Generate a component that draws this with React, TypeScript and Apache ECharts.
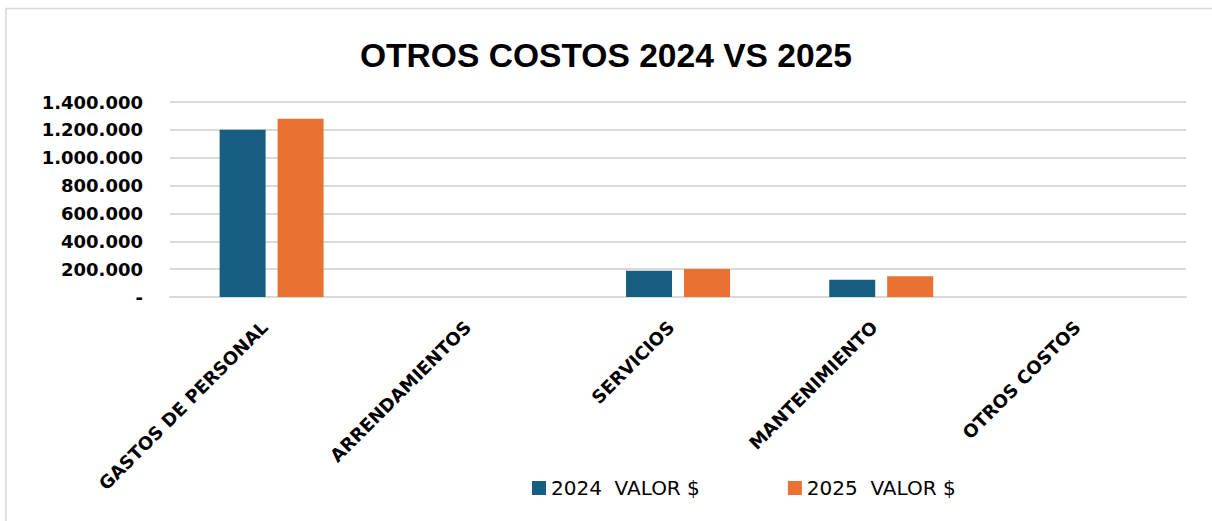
import React, { useEffect, useRef } from "react";
import * as echarts from "echarts";

const categories = ["GASTOS DE PERSONAL", "ARRENDAMIENTOS", "SERVICIOS", "MANTENIMIENTO", "OTROS COSTOS"];
const values2024 = [1200000, 0, 189000, 124000, 0];
const values2025 = [1280000, 0, 201000, 149000, 0];
const seriesNames = ["2024  VALOR $", "2025  VALOR $"];
const titleText = "OTROS COSTOS 2024 VS 2025";

function fmt(v: number): string {
  if (v === 0) return "-";
  return String(Math.round(v)).replace(/\B(?=(\d{3})+(?!\d))/g, ".");
}

export default function App() {
  const ref = useRef<HTMLDivElement>(null);
  useEffect(() => {
    if (!ref.current) return;
    const chart = echarts.init(ref.current, null, { renderer: "svg" });
    chart.setOption({
      animation: false,
      backgroundColor: "#ffffff",
      title: {
        text: titleText,
        left: "center",
        top: 33,
        textStyle: { fontFamily: "Liberation Sans, Arial", fontWeight: "bold", fontSize: 33.6, color: "#000" },
      },
      graphic: [
        {
          type: "rect",
          shape: { x: 6, y: 8.5, width: 1220, height: 530 },
          style: { fill: "none", stroke: "#d9d9d9", lineWidth: 1.5 },
          silent: true,
        },
      ],
      legend: {
        bottom: 18,
        left: 527,
        itemGap: 88,
        icon: "rect",
        itemWidth: 14,
        itemHeight: 14,
        textStyle: { fontFamily: "DejaVu Sans", fontSize: 20, color: "#000" },
        data: seriesNames,
      },
      grid: { left: 170, right: 26, top: 102, bottom: 224, containLabel: false },
      xAxis: {
        type: "category",
        data: categories,
        axisLine: { show: true, lineStyle: { color: "#d9d9d9", width: 2 } },
        axisTick: { show: false },
        axisLabel: {
          rotate: 45,
          interval: 0,
          margin: 20,
          padding: [0, 10, 0, 0],
          fontFamily: "DejaVu Sans",
          fontWeight: "bold",
          fontSize: 18,
          color: "#000",
        },
      },
      yAxis: {
        type: "value",
        min: 0,
        max: 1400000,
        interval: 200000,
        axisLine: { show: false },
        axisTick: { show: false },
        splitLine: { lineStyle: { color: "#d9d9d9", width: 2 } },
        axisLabel: {
          formatter: (v: number) => fmt(v),
          margin: 27,
          fontFamily: "DejaVu Sans",
          fontWeight: "bold",
          fontSize: 18,
          color: "#000",
        },
      },
      series: [
        {
          name: seriesNames[0],
          type: "bar",
          data: values2024,
          barWidth: 46,
          barGap: "26%",
          itemStyle: { color: "#175f82" },
        },
        {
          name: seriesNames[1],
          type: "bar",
          data: values2025,
          barWidth: 46,
          barGap: "26%",
          itemStyle: { color: "#e97132" },
        },
      ],
    });
    return () => chart.dispose();
  }, []);
  return (
    <div
      ref={ref}
      style={{ position: "absolute", left: 0, top: 0, width: 1212, height: 521 }}
    />
  );
}
